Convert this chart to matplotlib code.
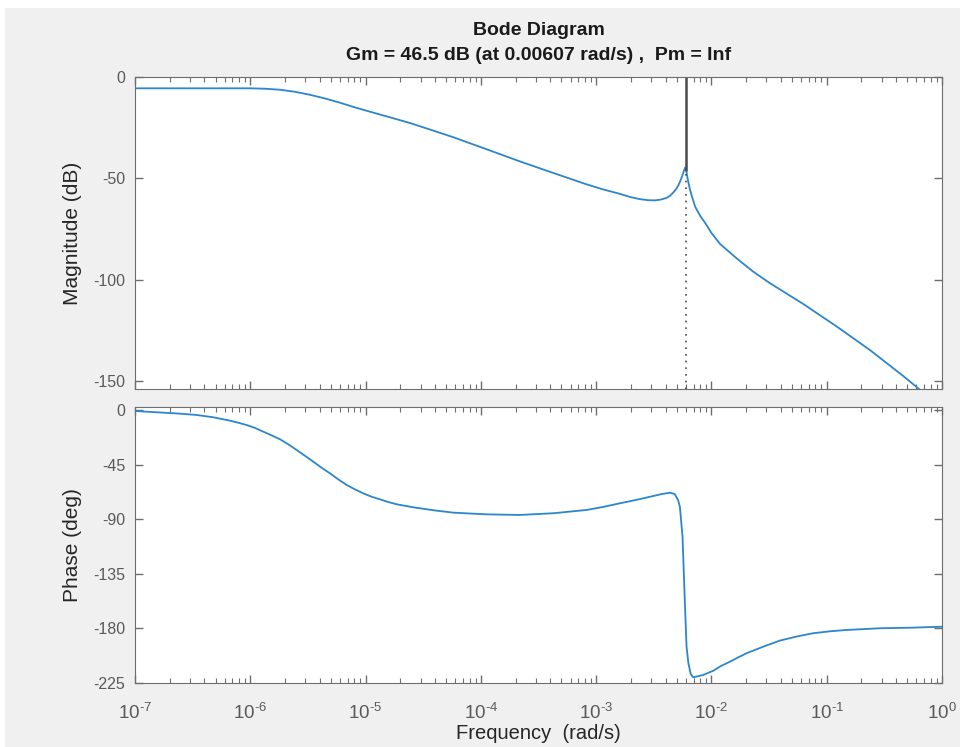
import matplotlib.pyplot as plt
import numpy as np
from matplotlib.ticker import LogLocator, NullFormatter
from matplotlib.patches import Rectangle

plt.rcParams['font.family'] = ['Liberation Sans', 'DejaVu Sans']
plt.rcParams['mathtext.fontset'] = 'custom'
plt.rcParams['mathtext.rm'] = 'Liberation Sans'
plt.rcParams['axes.unicode_minus'] = False

# Magnitude response, rad/s and dB
mag_freq = [1.0e-7, 3.66e-7, 1.0e-6, 1.34e-6, 1.81e-6, 2.44e-6, 3.30e-6, 4.45e-6,
            6.00e-6, 8.09e-6, 1.09e-5, 1.63e-5, 2.43e-5, 3.62e-5, 5.77e-5, 1.12e-4,
            2.18e-4, 4.25e-4, 8.26e-4, 1.15e-3, 1.61e-3, 1.96e-3, 2.40e-3, 2.81e-3,
            3.24e-3, 3.65e-3, 4.08e-3, 4.37e-3, 4.64e-3, 4.92e-3, 5.17e-3, 5.38e-3,
            5.58e-3, 5.75e-3, 5.93e-3, 6.07e-3, 6.25e-3, 6.50e-3, 6.80e-3, 7.23e-3,
            8.00e-3, 8.83e-3, 1.00e-2, 1.19e-2, 1.66e-2, 2.29e-2, 3.22e-2, 6.25e-2,
            0.122, 0.237, 0.461, 1.0]
mag_db = [-5.6, -5.6, -5.6, -5.8, -6.3, -7.3, -8.8, -10.6,
          -12.7, -15.0, -17.1, -19.9, -22.7, -25.9, -29.7, -35.6,
          -41.6, -47.3, -52.9, -55.4, -57.6, -59.1, -60.2, -60.7,
          -60.8, -60.4, -59.6, -58.6, -57.1, -55.4, -53.4, -51.2,
          -48.8, -46.6, -44.6, -46.5, -50.7, -55.2, -59.1, -63.9,
          -68.5, -71.9, -76.8, -82.3, -89.4, -95.8, -101.6, -111.8,
          -122.9, -134.5, -147.3, -163.0]

# Phase response, rad/s and degrees
ph_freq = [1.0e-7, 1.26e-7, 1.76e-7, 2.45e-7, 3.43e-7, 4.77e-7, 6.67e-7, 7.87e-7,
           9.31e-7, 1.10e-6, 1.30e-6, 1.53e-6, 1.81e-6, 2.14e-6, 2.53e-6, 2.98e-6,
           3.52e-6, 4.16e-6, 4.91e-6, 5.79e-6, 6.85e-6, 8.09e-6, 9.55e-6, 1.13e-5,
           1.33e-5, 1.57e-5, 1.86e-5, 2.59e-5, 4.00e-5, 5.77e-5, 8.00e-5, 1.12e-4,
           2.18e-4, 4.25e-4, 8.26e-4, 1.15e-3, 1.61e-3, 2.25e-3, 3.13e-3, 3.75e-3,
           4.37e-3, 4.80e-3, 5.14e-3, 5.33e-3, 5.62e-3, 5.89e-3, 6.09e-3, 6.32e-3,
           6.62e-3, 6.94e-3, 7.34e-3, 8.50e-3, 1.04e-2, 1.20e-2, 1.45e-2, 1.70e-2,
           2.02e-2, 2.81e-2, 3.92e-2, 5.50e-2, 7.63e-2, 0.107, 0.149, 0.289,
           0.562, 1.0]
ph_deg = [-0.8, -1.4, -2.2, -3.0, -4.1, -6.0, -8.8, -10.5,
          -12.4, -14.8, -17.9, -20.9, -24.1, -28.3, -33.0, -37.7,
          -42.6, -47.6, -52.2, -57.1, -61.8, -65.4, -68.7, -71.5,
          -73.6, -75.8, -77.7, -80.2, -82.8, -84.6, -85.3, -86.0,
          -86.5, -85.1, -82.4, -79.9, -76.9, -74.0, -70.9, -69.2,
          -68.2, -69.2, -74.2, -79.7, -104.4, -159.3, -195.1, -208.8,
          -217.6, -220.3, -219.8, -218.4, -214.9, -211.2, -207.4, -204.0,
          -200.5, -195.1, -190.1, -186.7, -184.0, -182.4, -181.3, -179.9,
          -179.4, -178.6]

# gain margin
gm_db = 46.5
gm_freq = 0.00607

freq_ticks = [1e-7, 1e-6, 1e-5, 1e-4, 1e-3, 1e-2, 1e-1, 1e0]
freq_labels = [r'$\mathregular{10^{\text{-}7}}$', r'$\mathregular{10^{\text{-}6}}$',
               r'$\mathregular{10^{\text{-}5}}$', r'$\mathregular{10^{\text{-}4}}$',
               r'$\mathregular{10^{\text{-}3}}$', r'$\mathregular{10^{\text{-}2}}$',
               r'$\mathregular{10^{\text{-}1}}$', r'$\mathregular{10^{0}}$']
mag_ticks = [-150, -100, -50, 0]
ph_ticks = [-225, -180, -135, -90, -45, 0]

mag_lim = (-153.7, 0)
ph_lim = (-225, 2.5)

fig = plt.figure(figsize=(9.6, 7.47), dpi=100, facecolor='#f0f0f0')
# white window edge at top and left
fig.patches.append(Rectangle((0, 0.989), 1, 0.011, transform=fig.transFigure,
                             facecolor='white', edgecolor='none', zorder=-1))
fig.patches.append(Rectangle((0, 0), 0.005, 1, transform=fig.transFigure,
                             facecolor='white', edgecolor='none', zorder=-1))

ax1 = fig.add_axes([0.1406, 0.4793, 0.8406, 0.4177])
ax2 = fig.add_axes([0.1406, 0.0857, 0.8406, 0.3695], sharex=ax1)

ax1.semilogx(mag_freq, mag_db, color='#2b86cc', lw=1.3)
ax1.vlines(gm_freq, -gm_db, 0, colors='#4a4a4a', lw=1.8)
ax1.vlines(gm_freq, mag_lim[0], -gm_db, colors='#4a4a4a', lw=1.2, linestyles=(0, (1, 3)))
ax2.semilogx(ph_freq, ph_deg, color='#2b86cc', lw=1.3)

ax1.set_ylim(*mag_lim)
ax1.set_yticks(mag_ticks)
ax2.set_ylim(*ph_lim)
ax2.set_yticks(ph_ticks)
ax2.set_xlim(1e-7, 1e0)
ax2.set_xticks(freq_ticks)
ax2.set_xticklabels(freq_labels)
ax2.xaxis.set_minor_locator(LogLocator(base=10, subs=np.arange(2, 10), numticks=100))
ax2.xaxis.set_minor_formatter(NullFormatter())

for ax in (ax1, ax2):
    ax.set_facecolor('white')
    ax.tick_params(which='both', direction='in', top=True, right=True,
                   colors='#6e6e6e', labelcolor='#5a5a5a', labelsize=11.5)
    ax.tick_params(which='major', length=6, width=1)
    ax.tick_params(which='minor', length=3.5, width=0.8)
    ax.tick_params(axis='x', pad=14, labelsize=13.5)
    ax.tick_params(axis='y', pad=7)
    for s in ax.spines.values():
        s.set_color('#6e6e6e')
ax1.tick_params(labelbottom=False)

ax1.set_ylabel('Magnitude (dB)', fontsize=15, color='#262626', labelpad=8)
ax2.set_ylabel('Phase (deg)', fontsize=15, color='#262626', labelpad=8)
ax2.set_xlabel('Frequency  (rad/s)', fontsize=14.5, color='#262626')
ax2.xaxis.set_label_coords(0.5, -0.148)

fig.text(0.561, 0.959, 'Bode Diagram', ha='center', va='center',
         fontsize=14, fontweight='bold', color='#1a1a1a')
fig.text(0.561, 0.926, 'Gm = %.1f dB (at %.5f rad/s) ,  Pm = Inf' % (gm_db, gm_freq),
         ha='center', va='center', fontsize=14, fontweight='bold', color='#1a1a1a')

fig.savefig('out.png', dpi=100, facecolor=fig.get_facecolor())
